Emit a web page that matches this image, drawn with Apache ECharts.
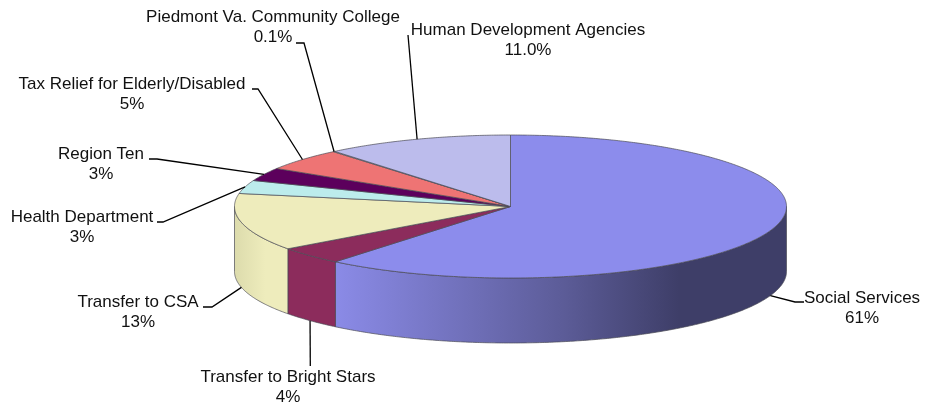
<!DOCTYPE html>
<html>
<head>
<meta charset="utf-8">
<style>html,body{margin:0;padding:0;background:#fff}#chart{width:927px;height:406px}</style>
<script src="https://cdn.jsdelivr.net/npm/echarts@6/dist/echarts.min.js"></script>
</head>
<body>
<div id="chart"></div>
<script>
// Budget shares, clockwise from twelve o'clock
const categories = ['Social Services', 'Transfer to Bright Stars', 'Transfer to CSA', 'Health Department', 'Region Ten', 'Tax Relief for Elderly/Disabled', 'Piedmont Va. Community College', 'Human Development Agencies'];
const shares = [61, 4, 13, 3, 3, 5, 0.1, 11];
const shareLabels = ['61%', '4%', '13%', '3%', '3%', '5%', '0.1%', '11.0%'];

// Face colours per slice
const topColors = ['#8c8cec', '#8c2c5c', '#eeecbc', '#bcecec', '#5c005c', '#ee7474', '#f4e4d4', '#bcbcec'];

// Disc proportions
const disc = { cx: 510.5, cy: 206.5, rx: 276, ry: 71.5, depth: 65 };

// Label centre and leader elbow(s) for each slice
const labelPlaces = [
  { x: 862, y: 308, elbow: [[795, 302], [804, 302]] },
  { x: 288, y: 387, elbow: [[310.3, 366]] },
  { x: 138, y: 312, elbow: [[212, 307], [203, 307]] },
  { x: 82, y: 227, elbow: [[163, 222], [157, 222]] },
  { x: 101, y: 164, elbow: [[157, 159], [149, 159]] },
  { x: 132, y: 94, elbow: [[258, 89], [252, 89]] },
  { x: 273, y: 27, elbow: [[304, 43], [296, 43]] },
  { x: 528, y: 40, elbow: [[408, 35]] }
];

const total = shares.reduce((a, b) => a + b, 0);
const rad = d => d * Math.PI / 180;
const rim = (deg, drop) => [
  disc.cx + disc.rx * Math.sin(rad(deg)),
  disc.cy - disc.ry * Math.cos(rad(deg)) + (drop || 0)
];
const arc = (from, to, drop) => {
  const n = Math.max(2, Math.ceil(Math.abs(to - from) * 2));
  const pts = [];
  for (let i = 0; i <= n; i++) pts.push(rim(from + (to - from) * i / n, drop));
  return pts;
};

// Side walls: shaded from left to right across the disc
const sideFill = i => {
  if (i === 0) {
    return new echarts.graphic.LinearGradient(338, 0, 787, 0, [
      { offset: 0, color: '#8a8ae6' },
      { offset: 0.22, color: '#7676c4' },
      { offset: 0.5, color: '#5c5c98' },
      { offset: 0.76, color: '#3e3e68' },
      { offset: 1, color: '#3e3e68' }
    ], true);
  }
  if (i === 2) {
    return new echarts.graphic.LinearGradient(234, 0, 291, 0, [
      { offset: 0, color: '#dcdbac' },
      { offset: 0.55, color: '#eeecbc' },
      { offset: 1, color: '#eeecbc' }
    ], true);
  }
  return topColors[i];
};

const edge = { stroke: '#4a4a55', lineWidth: 0.7 };

function renderSlice(params, api) {
  const i = params.dataIndex;
  const before = shares.slice(0, i).reduce((a, b) => a + b, 0);
  const start = before / total * 360;
  const end = (before + api.value(0)) / total * 360;
  const mid = (start + end) / 2;
  const children = [];

  // Front wall, only where the rim faces the viewer
  const wallFrom = Math.max(start, 90);
  const wallTo = Math.min(end, 270);
  if (wallTo > wallFrom) {
    children.push({
      type: 'polygon',
      z2: 1,
      shape: { points: arc(wallFrom, wallTo, 0).concat(arc(wallTo, wallFrom, disc.depth)) },
      style: Object.assign({ fill: sideFill(i) }, edge)
    });
  }

  // Top face
  children.push({
    type: 'polygon',
    z2: 2,
    shape: { points: [[disc.cx, disc.cy]].concat(arc(start, end, 0)) },
    style: Object.assign({ fill: topColors[i] }, edge)
  });

  // Leader from the rim to the label
  const onFront = mid > 90 && mid < 270;
  const place = labelPlaces[i];
  children.push({
    type: 'polyline',
    z2: 3,
    shape: { points: [rim(mid, onFront ? disc.depth : 0)].concat(place.elbow) },
    style: { stroke: '#000', lineWidth: 1.3, fill: null }
  });

  // Label text
  children.push({
    type: 'text',
    z2: 4,
    style: {
      text: categories[i] + '\n' + shareLabels[i],
      x: place.x,
      y: place.y,
      align: 'center',
      verticalAlign: 'middle',
      fill: '#111',
      font: '17px "Liberation Sans", Arial, sans-serif',
      lineHeight: 20
    }
  });

  return { type: 'group', children };
}

const chart = echarts.init(document.getElementById('chart'), null, { renderer: 'canvas' });
chart.setOption({
  animation: false,
  backgroundColor: '#fff',
  series: [{
    type: 'custom',
    coordinateSystem: 'none',
    renderItem: renderSlice,
    data: shares.map((v, i) => ({ name: categories[i], value: [v] }))
  }]
});
</script>
</body>
</html>
